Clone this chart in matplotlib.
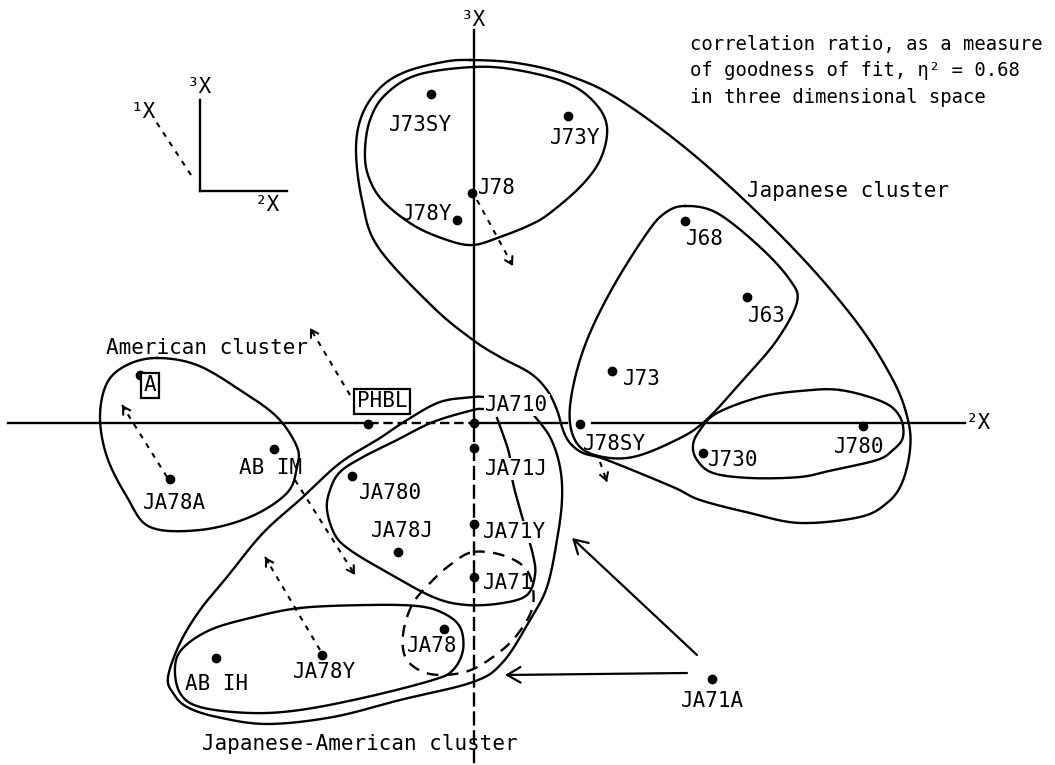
import numpy as np
import matplotlib
matplotlib.use("Agg")
import matplotlib.pyplot as plt

plt.rcParams["font.family"] = ["DejaVu Sans Mono", "DejaVu Sans"]

# ---- stimulus positions in the (2X, 3X) plane --------------------------
names = ["J73SY", "J73Y", "J78", "J78Y", "J68", "J63", "J73", "A", "PHBL",
         "JA710", "J78SY", "J730", "J780", "AB IM", "JA78A", "JA780", "JA71J",
         "JA78J", "JA71Y", "JA71", "JA78", "AB IH", "JA78Y", "JA71A"]
x2 = [-0.43, 0.94, -0.02, -0.17, 2.11, 2.73, 1.38, -3.34, -1.06,
      0.00, 1.06, 2.29, 3.89, -2.00, -3.04, -1.22, 0.00,
      -0.76, 0.00, 0.00, -0.30, -2.58, -1.52, 2.38]
x3 = [3.29, 3.07, 2.30, 2.03, 2.02, 1.26, 0.52, 0.48, -0.01,
      0.00, -0.01, -0.30, -0.03, -0.26, -0.56, -0.53, -0.25,
      -1.29, -1.01, -1.54, -2.06, -2.35, -2.32, -2.56]

# label placement (pixel offsets from the point, y measured downwards)
label_dx = [-11, 7, 6, -5, 20, 20, 30, 10, 14, 43, 35, 30, -4, -3, 5, 39, 42,
            4, 40, 34, -12, 1, 2, 0]
label_dy = [31, 22, -5, -6, 18, 19, 8, 10, -23, -18, 20, 7, 21, 19, 24, 17, 21,
            -21, 8, 6, 17, 26, 17, 22]
label_ha = {"J78": "left", "J78Y": "right"}
boxed = {"A", "PHBL"}
masked = {"JA710", "JA71J", "JA71Y"}

# ---- cluster outlines (closed unless noted) -----------------------------
japanese_outer = [(-0.04, 3.63), (0.43, 3.60), (0.93, 3.48), (1.46, 3.23), (2.26, 2.63),
                  (3.16, 1.78), (3.81, 1.03), (4.19, 0.43),
                  (4.34, 0.03), (4.36, -0.27), (4.28, -0.60), (4.13, -0.80), (3.86, -0.94),
                  (3.26, -1.00), (2.76, -0.90), (2.26, -0.77), (1.99, -0.64), (1.33, -0.37),
                  (1.09, -0.30), (0.96, -0.20), (0.89, -0.07), (0.83, 0.13), (0.73, 0.33),
                  (0.56, 0.50), (0.26, 0.66), (-0.01, 0.83), (-0.41, 1.16), (-0.96, 1.76),
                  (-1.12, 2.23), (-1.18, 2.73), (-1.12, 3.08), (-0.94, 3.35), (-0.69, 3.51),
                  (-0.31, 3.61)]
j73_loop = [(-0.01, 3.56), (0.43, 3.53), (0.93, 3.40), (1.21, 3.20), (1.33, 2.96),
            (1.27, 2.65), (1.08, 2.38), (0.76, 2.10), (0.56, 1.98), (0.26, 1.86),
            (-0.01, 1.78), (-0.27, 1.83), (-0.61, 1.98), (-0.92, 2.23), (-1.06, 2.48),
            (-1.09, 2.73), (-1.04, 3.03), (-0.89, 3.28), (-0.57, 3.48)]
j68_loop = [(2.11, 2.17), (2.43, 2.10), (2.86, 1.76), (3.16, 1.43), (3.23, 1.21),
            (3.03, 0.83), (2.69, 0.43), (2.29, 0.00), (1.96, -0.20), (1.59, -0.34),
            (1.29, -0.34), (1.06, -0.24), (0.96, 0.00), (0.99, 0.36), (1.13, 0.83),
            (1.39, 1.36), (1.73, 1.90), (1.91, 2.10)]
j780_loop = [(3.66, 0.33), (4.09, 0.21), (4.26, 0.06), (4.29, -0.14), (4.19, -0.27),
             (4.03, -0.37), (3.59, -0.47), (3.26, -0.54), (2.76, -0.55), (2.39, -0.50),
             (2.23, -0.37), (2.19, -0.22), (2.26, -0.07), (2.43, 0.10), (2.86, 0.26),
             (3.26, 0.32)]
american_loop = [(-3.17, 0.65), (-2.77, 0.58), (-2.34, 0.33), (-1.97, 0.06), (-1.77, -0.24),
                 (-1.77, -0.44), (-1.87, -0.70), (-2.24, -0.94), (-2.74, -1.07),
                 (-3.24, -1.04), (-3.47, -0.74), (-3.67, -0.34), (-3.74, 0.06),
                 (-3.67, 0.40), (-3.47, 0.58)]
# open outlines (broken where the JA710 label sits)
ja_outer = [(0.11, 0.26), (-0.01, 0.26), (-0.34, 0.21), (-0.67, 0.03), (-0.94, -0.15),
            (-1.34, -0.40), (-1.71, -0.74), (-2.11, -1.10), (-2.47, -1.54), (-2.74, -1.87),
            (-2.94, -2.20), (-3.06, -2.54), (-3.01, -2.70), (-2.87, -2.84), (-2.57, -2.94),
            (-2.07, -3.01), (-1.41, -2.94), (-0.74, -2.77), (-0.01, -2.59), (0.29, -2.39),
            (0.56, -1.97), (0.73, -1.64), (0.83, -1.17), (0.88, -0.77), (0.86, -0.44),
            (0.76, -0.14), (0.58, 0.10)]
ja780_loop = [(0.09, 0.14), (-0.01, 0.13), (-0.41, 0.01), (-0.77, -0.17), (-1.11, -0.34),
              (-1.34, -0.49), (-1.44, -0.67), (-1.47, -0.87), (-1.39, -1.12), (-1.24, -1.27),
              (-0.91, -1.47), (-0.41, -1.74), (-0.07, -1.82), (0.29, -1.80), (0.53, -1.72),
              (0.61, -1.52), (0.59, -1.32), (0.49, -0.97), (0.39, -0.60), (0.35, -0.30),
              (0.23, 0.05)]
abih_loop = [(-1.74, -1.85), (-1.07, -1.82), (-0.57, -1.83), (-0.31, -1.90), (-0.14, -2.04),
             (-0.11, -2.27), (-0.21, -2.47), (-0.41, -2.57), (-1.07, -2.74), (-1.74, -2.87),
             (-2.24, -2.90), (-2.74, -2.84), (-2.94, -2.70), (-2.99, -2.44), (-2.91, -2.25),
             (-2.64, -2.07), (-2.24, -1.95)]
ja71_dashed = [(-0.01, -1.29), (0.31, -1.33), (0.54, -1.49), (0.59, -1.82), (0.43, -2.12),
               (0.19, -2.34), (-0.09, -2.49), (-0.44, -2.51), (-0.67, -2.37), (-0.71, -2.12),
               (-0.62, -1.82), (-0.44, -1.60), (-0.24, -1.42)]

# shifts between conditions (start -> arrow tip)
dashed_shifts = [((-3.07, -0.54), (-3.52, 0.18)),
                 ((-1.24, 0.28), (-1.64, 0.95)),
                 ((-1.79, -0.57), (-1.19, -1.52)),
                 ((-1.54, -2.27), (-2.09, -1.34)),
                 ((0.03, 2.23), (0.39, 1.57)),
                 ((1.26, -0.39), (1.33, -0.59))]
solid_shifts = [((2.13, -2.50), (0.31, -2.52)),
                ((2.23, -2.32), (0.98, -1.15))]

LW = 1.7


def catmull(pts, closed=True, n=24):
    P = np.asarray(pts, dtype=float)
    if not closed:
        P = np.vstack([2 * P[0] - P[1], P, 2 * P[-1] - P[-2]])
    m = len(P)
    segs = []
    rng = range(m) if closed else range(1, m - 2)
    t = np.linspace(0, 1, n, endpoint=False)[:, None]
    for i in rng:
        p0, p1, p2, p3 = P[i - 1], P[i], P[(i + 1) % m], P[(i + 2) % m]
        seg = 0.5 * (2 * p1 + (-p0 + p2) * t + (2 * p0 - 5 * p1 + 4 * p2 - p3) * t ** 2
                     + (-p0 + 3 * p1 - 3 * p2 + p3) * t ** 3)
        segs.append(seg)
    segs.append((P[0] if closed else P[-2])[None, :])
    return np.vstack(segs)


fig = plt.figure(figsize=(10.55, 7.65), dpi=100)
ax = fig.add_axes([0, 0, 1, 1])
ax.set_xlim(-4.74, 5.81)
ax.set_ylim(-3.42, 4.23)
ax.axis("off")

# main axes
ax.plot([-4.66, -1.19], [0, 0], color="black", lw=LW, zorder=1)
ax.plot([-1.19, -0.04], [0, 0], color="black", lw=LW, ls=(0, (4, 2)), zorder=1)
ax.plot([0.04, 0.93], [0, 0], color="black", lw=LW, zorder=1)
ax.plot([1.18, 4.91], [0, 0], color="black", lw=LW, zorder=1)
ax.plot([0, 0], [3.93, 0.05], color="black", lw=LW, zorder=1)
ax.plot([0, 0], [-0.05, -3.42], color="black", lw=LW, ls=(0, (6, 2)), zorder=1)
ax.text(5.04, 0.0, "²X", fontsize=15, ha="center", va="center")
ax.text(-0.01, 4.03, "³X", fontsize=15, ha="center", va="center")

# orientation key
ax.plot([-2.74, -2.74], [3.23, 2.32], color="black", lw=LW)
ax.plot([-2.74, -1.87], [2.32, 2.32], color="black", lw=LW)
ax.plot([-2.83, -3.19], [2.48, 3.03], color="black", lw=1.5, ls=(0, (2.5, 3)))
ax.text(-2.75, 3.36, "³X", fontsize=15, ha="center", va="center")
ax.text(-2.07, 2.18, "²X", fontsize=15, ha="center", va="center")
ax.text(-3.31, 3.11, "¹X", fontsize=15, ha="center", va="center")

# cluster outlines
for shape in (japanese_outer, j73_loop, j68_loop, j780_loop, american_loop, abih_loop):
    c = catmull(shape)
    ax.plot(c[:, 0], c[:, 1], color="black", lw=LW, zorder=1)
for shape in (ja_outer, ja780_loop):
    c = catmull(shape, closed=False)
    ax.plot(c[:, 0], c[:, 1], color="black", lw=LW, zorder=1)
c = catmull(ja71_dashed)
ax.plot(c[:, 0], c[:, 1], color="black", lw=LW, ls=(0, (5, 3.5)), zorder=1)

# shifts
for (sx, sy), (tx, ty) in dashed_shifts:
    ax.plot([sx, tx], [sy, ty], color="black", lw=1.5, ls=(0, (2.5, 3)), zorder=1)
    bx, by = tx - 0.06 * (tx - sx), ty - 0.06 * (ty - sy)
    ax.annotate("", xy=(tx, ty), xytext=(bx, by),
                arrowprops=dict(arrowstyle="->,head_length=0.5,head_width=0.3",
                                lw=1.5, color="black", shrinkA=0, shrinkB=0))
for (sx, sy), (tx, ty) in solid_shifts:
    ax.annotate("", xy=(tx, ty), xytext=(sx, sy),
                arrowprops=dict(arrowstyle="->,head_length=0.6,head_width=0.35",
                                mutation_scale=16, lw=1.6, color="black",
                                shrinkA=0, shrinkB=0))

# stimuli
ax.plot(x2, x3, "o", color="black", ms=6, zorder=3)
for name, x, y, dx, dy in zip(names, x2, x3, label_dx, label_dy):
    kw = dict(fontsize=15, ha=label_ha.get(name, "center"), va="center", zorder=4)
    if name in boxed:
        kw["bbox"] = dict(boxstyle="square,pad=0.12", fc="white", ec="black", lw=1.6)
    elif name in masked:
        kw["bbox"] = dict(boxstyle="square,pad=0.05", fc="white", ec="none")
    ax.annotate(name, xy=(x, y), xytext=(dx, -dy), textcoords="offset pixels", **kw)

# cluster names and fit note
ax.text(-2.67, 0.75, "American cluster", fontsize=15, ha="center", va="center")
ax.text(3.74, 2.32, "Japanese cluster", fontsize=15, ha="center", va="center")
ax.text(-1.14, -3.21, "Japanese-American cluster", fontsize=15, ha="center", va="center")
note = ["correlation ratio, as a measure",
        "of goodness of fit, η² = 0.68",
        "in three dimensional space"]
for i, line in enumerate(note):
    ax.text(2.16, 3.73 - 0.265 * i, line, fontsize=13.6, ha="left", va="baseline")

fig.savefig("out.png", dpi=100, facecolor="white")
